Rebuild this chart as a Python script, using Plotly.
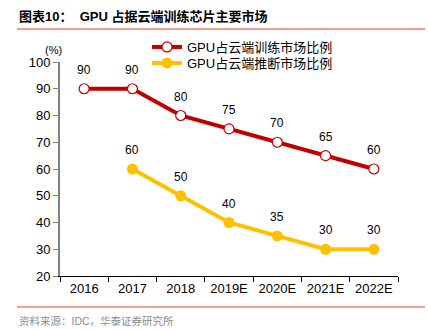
import plotly.graph_objects as go

years = ["2016", "2017", "2018", "2019E", "2020E", "2021E", "2022E"]
training_share = [90, 90, 80, 75, 70, 65, 60]
inference_share = [None, 60, 50, 40, 35, 30, 30]
y_ticks = [20, 30, 40, 50, 60, 70, 80, 90, 100]

W, H = 428, 330
L, R, T, B = 60, 30, 62, 54
pw, ph = W - L - R, H - T - B


def px(x):
    return (x - L) / pw


def py(y):
    return (H - B - y) / ph


FONT = "Arial, 'Liberation Sans', 'Noto Sans CJK SC', sans-serif"
RED = "#C00000"
YELLOW = "#FFC000"

fig = go.Figure()
fig.add_trace(go.Scatter(
    x=years, y=training_share, name="GPU占云端训练市场比例",
    mode="lines+markers", legend="legend",
    line=dict(color=RED, width=4),
    marker=dict(size=10, color="white", line=dict(color=RED, width=1.2)),
    cliponaxis=False,
))
fig.add_trace(go.Scatter(
    x=years, y=inference_share, name="GPU占云端推断市场比例",
    mode="lines+markers", legend="legend2",
    line=dict(color=YELLOW, width=4),
    marker=dict(size=11, color=YELLOW),
    cliponaxis=False,
))

# value labels above each point (category index as x position)
for series in (training_share, inference_share):
    for i, v in enumerate(series):
        if v is None:
            continue
        fig.add_annotation(x=i, y=v, text=str(v), showarrow=False,
                           xanchor="center", yanchor="middle", yshift=19,
                           font=dict(size=12, color="#000000"))

legend_style = dict(xanchor="left", yanchor="middle",
                    bgcolor="rgba(0,0,0,0)", font=dict(size=13, color="#000000"),
                    itemwidth=30)

fig.update_layout(
    width=W, height=H,
    margin=dict(l=L, r=R, t=T, b=B),
    paper_bgcolor="white", plot_bgcolor="white",
    font=dict(family=FONT, size=12, color="#000000"),
    showlegend=True,
    legend=dict(x=px(147), y=py(47), **legend_style),
    legend2=dict(x=px(147), y=py(63), **legend_style),
    xaxis=dict(
        type="category", range=[-0.5, 6.5],
        showline=True, linecolor="#000000", linewidth=1,
        ticks="outside", tickson="boundaries", ticklen=5, tickcolor="#000000",
        showgrid=False, zeroline=False,
        tickfont=dict(size=13, color="#000000"),
    ),
    yaxis=dict(
        range=[20, 100], tickvals=y_ticks,
        showline=True, linecolor="#808080", linewidth=2,
        ticks="outside", ticklen=5, tickcolor="#808080",
        showgrid=False, zeroline=False,
        tickfont=dict(size=13, color="#000000"),
    ),
)

# title, rules and notes
fig.add_annotation(xref="paper", yref="paper", x=px(17), y=py(16),
                   xanchor="left", yanchor="middle", showarrow=False,
                   text="<b>图表10：  GPU 占据云端训练芯片主要市场</b>",
                   font=dict(size=13, color="#000000"))
fig.add_shape(type="line", xref="paper", yref="paper",
              x0=px(17), x1=px(425), y0=py(29), y1=py(29),
              line=dict(color="#F07A6E", width=1.5))
fig.add_shape(type="line", xref="paper", yref="paper",
              x0=px(17), x1=px(425), y0=py(307), y1=py(307),
              line=dict(color="#E8402F", width=1.2))
fig.add_annotation(xref="paper", yref="paper", x=px(17), y=py(321),
                   xanchor="left", yanchor="middle", showarrow=False,
                   text="资料来源：IDC，华泰证券研究所",
                   font=dict(size=10.5, color="#8C8C8C"))
fig.add_annotation(xref="paper", yref="paper", x=px(53), y=py(50),
                   xanchor="center", yanchor="middle", showarrow=False,
                   text="(%)", font=dict(size=11, color="#000000"))

fig.write_html("out.html")
